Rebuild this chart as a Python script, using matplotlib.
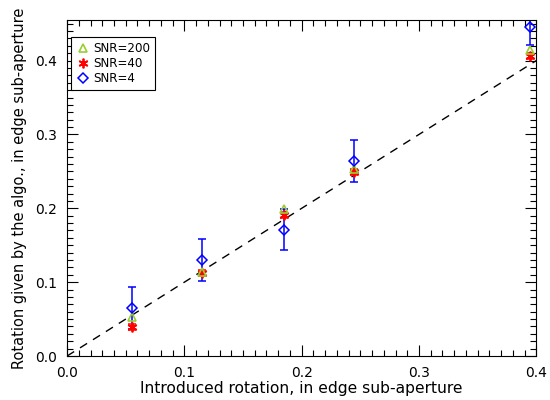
import numpy as np
import matplotlib
matplotlib.use('Agg')
from matplotlib import pyplot as plt
from matplotlib.ticker import MultipleLocator

# introduced rotation (edge sub-aperture)
x_rot = [0.055, 0.115, 0.185, 0.245, 0.395]

# measured rotation for each SNR
y_snr200 = [0.053, 0.114, 0.199, 0.253, 0.415]
y_snr40 = [0.039, 0.112, 0.191, 0.249, 0.406]
y_snr4 = [0.065, 0.130, 0.171, 0.264, 0.445]

# error bars
err_snr200 = [0.002, 0.002, 0.002, 0.002, 0.002]
err_snr40 = [0.004, 0.004, 0.004, 0.004, 0.004]
err_snr4 = [0.029, 0.028, 0.028, 0.028, 0.024]

plt.rcParams['font.family'] = ['DejaVu Sans']
fig = plt.figure(figsize=(5.5, 4), dpi=100)
ax = fig.add_axes([0.122, 0.11, 0.853, 0.84])

ax.plot([0, 0.4], [0, 0.4], 'k--', lw=1.0, dashes=(6, 5))

ax.errorbar(x_rot, y_snr4, yerr=err_snr4, fmt='none', ecolor='blue',
            elinewidth=1.1, capsize=3, capthick=1.1)
ax.errorbar(x_rot, y_snr40, yerr=err_snr40, fmt='none', ecolor='red',
            elinewidth=1.1, capsize=3, capthick=1.1)
ax.plot(x_rot, y_snr40, ls='none', marker=(6, 2, 0), ms=7, mec='red',
        mew=1.3, label='SNR=40')
ax.plot(x_rot, y_snr200, ls='none', marker='^', ms=6, mfc='none',
        mec='#9acd32', mew=1.2, label='SNR=200')
ax.plot(x_rot, y_snr4, ls='none', marker='D', ms=5, mfc='none',
        mec='blue', mew=1.1, label='SNR=4')

ax.set_xlim(0, 0.4)
ax.set_ylim(0, 0.455)
ax.xaxis.set_major_locator(MultipleLocator(0.1))
ax.xaxis.set_minor_locator(MultipleLocator(0.01))
ax.yaxis.set_major_locator(MultipleLocator(0.1))
ax.yaxis.set_minor_locator(MultipleLocator(0.01))
ax.tick_params(which='both', direction='in', top=True, right=True,
               labelsize=10, pad=7)
ax.tick_params(which='major', length=8, width=0.8)
ax.tick_params(which='minor', length=4, width=0.8)
for s in ax.spines.values():
    s.set_linewidth(0.8)

ax.set_xlabel('Introduced rotation, in edge sub-aperture', fontsize=11.2,
              labelpad=1)
ax.set_ylabel('Rotation given by the algo., in edge sub-aperture',
              fontsize=10.5, labelpad=6)

h, l = ax.get_legend_handles_labels()
order = [1, 0, 2]
leg = ax.legend([h[i] for i in order], [l[i] for i in order],
                loc='upper left', bbox_to_anchor=(0.008, 0.95), fontsize=8.6,
                fancybox=False, edgecolor='black', framealpha=1,
                handletextpad=0.2, handlelength=1.2, borderpad=0.45,
                labelspacing=0.15, borderaxespad=0)
leg.get_frame().set_linewidth(0.8)

plt.savefig('out.png', dpi=100)
